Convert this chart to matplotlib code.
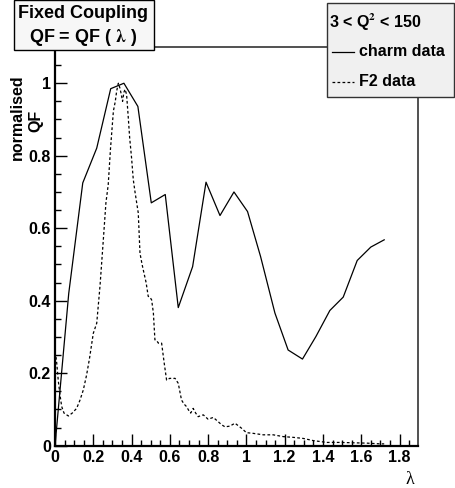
import matplotlib
matplotlib.use("Agg")
import matplotlib.pyplot as plt
from matplotlib.lines import Line2D
from matplotlib.patches import Rectangle
from matplotlib.ticker import MultipleLocator, FormatStrFormatter

plt.rcParams['font.family'] = ['Liberation Sans', 'DejaVu Sans']
plt.rcParams['font.weight'] = 'bold'
plt.rcParams['mathtext.fontset'] = 'stix'

# ---- data ----
charm_x = [0.0, 0.0717, 0.145, 0.218, 0.291, 0.36, 0.433, 0.503, 0.576, 0.644,
           0.719, 0.789, 0.862, 0.935, 1.006, 1.074, 1.149, 1.218, 1.293, 1.363,
           1.436, 1.506, 1.579, 1.650, 1.720]
charm_y = [0.0, 0.42, 0.725, 0.821, 0.985, 1.0, 0.936, 0.670, 0.693, 0.381,
           0.494, 0.727, 0.635, 0.700, 0.646, 0.522, 0.366, 0.264, 0.239, 0.301,
           0.373, 0.410, 0.511, 0.548, 0.568]

f2_x = [0.005, 0.009, 0.017, 0.026, 0.035, 0.047, 0.07, 0.09, 0.113, 0.13,
        0.148, 0.165, 0.18, 0.2, 0.218, 0.235, 0.25, 0.266, 0.278, 0.29,
        0.305, 0.315, 0.322, 0.331, 0.339, 0.346, 0.353, 0.36, 0.366, 0.374,
        0.383, 0.39, 0.40, 0.409, 0.418, 0.435, 0.444, 0.455, 0.465, 0.476,
        0.487, 0.496, 0.505, 0.514, 0.522, 0.531, 0.540, 0.557, 0.57, 0.583,
        0.60, 0.613, 0.627, 0.644, 0.661, 0.674, 0.687, 0.698, 0.709, 0.722,
        0.735, 0.748, 0.762, 0.775, 0.80, 0.827, 0.853, 0.87, 0.888, 0.914,
        0.94, 0.958, 0.975, 1.0, 1.036, 1.088, 1.14, 1.193, 1.245, 1.297,
        1.35, 1.42, 1.49, 1.56, 1.63, 1.70, 1.72]
f2_y = [0.245, 0.228, 0.18, 0.14, 0.108, 0.09, 0.082, 0.09, 0.103, 0.125,
        0.154, 0.195, 0.24, 0.31, 0.338, 0.44, 0.55, 0.67, 0.72, 0.82,
        0.923, 0.95, 0.978, 1.0, 0.987, 0.97, 0.95, 0.975, 0.983, 0.969,
        0.904, 0.85, 0.794, 0.734, 0.70, 0.642, 0.531, 0.50, 0.476, 0.45,
        0.412, 0.41, 0.402, 0.366, 0.292, 0.29, 0.283, 0.283, 0.23, 0.181,
        0.186, 0.185, 0.186, 0.172, 0.126, 0.115, 0.108, 0.098, 0.09, 0.103,
        0.09, 0.08, 0.083, 0.085, 0.073, 0.078, 0.066, 0.058, 0.052, 0.054,
        0.062, 0.055, 0.048, 0.036, 0.034, 0.03, 0.03, 0.025, 0.023, 0.02,
        0.014, 0.009, 0.009, 0.008, 0.007, 0.005, 0.005]

x_ticks = [0, 0.2, 0.4, 0.6, 0.8, 1.0, 1.2, 1.4, 1.6, 1.8]
y_ticks = [0, 0.2, 0.4, 0.6, 0.8, 1.0]

# ---- figure ----
fig = plt.figure(figsize=(4.55, 4.88), dpi=100)
ax = fig.add_axes([0.1209, 0.0867, 0.7971, 0.8170])

ax.plot(charm_x, charm_y, color='black', lw=0.9)
ax.plot(f2_x, f2_y, color='black', lw=0.9, linestyle=(0, (2.2, 1.8)))

ax.set_xlim(0, 1.895)
ax.set_ylim(0, 1.1)

ax.set_xticks(x_ticks)
ax.set_yticks(y_ticks)
ax.xaxis.set_minor_locator(MultipleLocator(0.05))
ax.yaxis.set_minor_locator(MultipleLocator(0.05))
ax.xaxis.set_major_formatter(FormatStrFormatter('%g'))
ax.yaxis.set_major_formatter(FormatStrFormatter('%g'))
ax.tick_params(which='both', direction='in', top=False, right=False,
               labelsize=11.5, width=1.0)
ax.tick_params(which='major', length=8.4)
ax.tick_params(which='minor', length=4.0)
ax.tick_params(axis='x', pad=3)
ax.tick_params(axis='y', pad=3)
for lab in ax.get_xticklabels() + ax.get_yticklabels():
    lab.set_fontweight('bold')

ax.spines['left'].set_linewidth(1.6)
ax.spines['bottom'].set_linewidth(1.6)
ax.spines['top'].set_linewidth(1.2)
ax.spines['right'].set_linewidth(1.2)
ax.spines['top'].set_color('#333333')
ax.spines['right'].set_color('#333333')

W, H = 455.0, 488.0

# y label (two lines, rotated)
fig.text(17 / W, 1 - 117 / H, "normalised", rotation=90,
         ha='center', va='center', fontsize=11.5, fontweight='bold')
fig.text(36 / W, 1 - 121 / H, "QF", rotation=90,
         ha='center', va='center', fontsize=11.5, fontweight='bold')

# x label (lambda)
fig.text(410 / W, 1 - 479 / H, "λ", ha='center', va='center',
         fontsize=13, family=['Liberation Serif', 'DejaVu Serif'],
         fontweight='normal')

# title box
tbox = Rectangle((14 / W, 1 - 50 / H), 140 / W, 50 / H, transform=fig.transFigure,
                 facecolor='#f7f7f7', edgecolor='black', lw=1.0, zorder=5)
fig.add_artist(tbox)
fig.text(83 / W, 1 - 14 / H, "Fixed Coupling", ha='center', va='center',
         fontsize=13, fontweight='bold', zorder=6)
fig.text(83 / W, 1 - 37 / H, r"QF = QF ( $\mathrm{\lambda}$ )", ha='center',
         va='center', fontsize=13, fontweight='bold', zorder=6)

# legend box
lbox = Rectangle((327 / W, 1 - 97 / H), 127 / W, 94 / H, transform=fig.transFigure,
                 facecolor='#f0f0f0', edgecolor='#333333', lw=1.0, zorder=5)
fig.add_artist(lbox)
fig.text(329 / W, 1 - 22 / H, r"3 < Q$^{\mathbf{2}}$ < 150", ha='left', va='center',
         fontsize=11.5, fontweight='bold', zorder=6)
fig.add_artist(Line2D([332 / W, 354 / W], [1 - 52 / H, 1 - 52 / H],
                      transform=fig.transFigure, color='black', lw=0.9, zorder=6))
fig.text(359 / W, 1 - 52 / H, "charm data", ha='left', va='center',
         fontsize=11.5, fontweight='bold', zorder=6)
fig.add_artist(Line2D([332 / W, 354 / W], [1 - 82 / H, 1 - 82 / H],
                      transform=fig.transFigure, color='black', lw=0.9,
                      linestyle=(0, (2.2, 1.8)), zorder=6))
fig.text(359 / W, 1 - 82 / H, "F2 data", ha='left', va='center',
         fontsize=11.5, fontweight='bold', zorder=6)

fig.savefig("out.png", dpi=100)
